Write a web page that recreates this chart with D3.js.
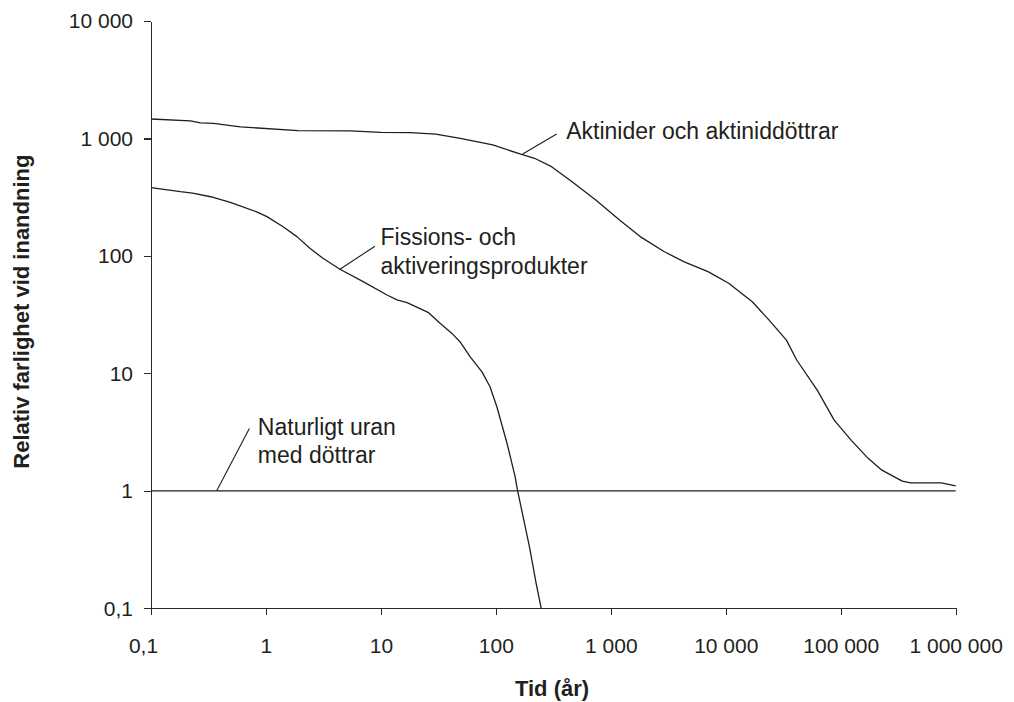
<!DOCTYPE html>
<html lang="sv">
<head>
<meta charset="utf-8">
<script src="https://cdn.jsdelivr.net/npm/d3@7"></script>
<style>
  html, body { margin: 0; padding: 0; background: #fff; }
  svg { display: block; font-family: "Liberation Sans", Arial, Helvetica, sans-serif; }
  .axis path, .axis line { stroke: #2a2a2a; stroke-width: 1.1; shape-rendering: crispEdges; }
  .axis text { font-size: 21px; fill: #231f20; font-family: "Liberation Sans", Arial, Helvetica, sans-serif; }
  .title { font-size: 22px; font-weight: bold; fill: #231f20; }
  .note { font-size: 23px; fill: #231f20; }
  .curve { fill: none; stroke: #1e1e1e; stroke-width: 1.3; stroke-linejoin: round; }
  .leader { fill: none; stroke: #1e1e1e; stroke-width: 1.1; }
</style>
</head>
<body>
<svg id="chart" width="1014" height="702"></svg>
<script>
// Tick values (log axes)
const timeTicks = [0.1, 1, 10, 100, 1000, 10000, 100000, 1000000];
const hazardTicks = [0.1, 1, 10, 100, 1000, 10000];

// Aktinider och aktiniddöttrar: tid (år) och relativ farlighet
const actinideTime = [0.1, 0.22, 0.27, 0.35, 0.6, 1.9, 5.4, 10, 18, 30, 49, 94, 162, 217, 305, 460, 740,
  1190, 1800, 2900, 4350, 7000, 10600, 17000, 23500, 33700, 41400, 62400, 87700, 123000, 173000,
  228000, 343000, 406000, 750000, 1000000];
const actinideValue = [1465, 1410, 1360, 1345, 1255, 1165, 1160, 1127, 1120, 1090, 1000, 880, 738, 678,
  575, 428, 299, 202, 146, 109, 89, 73.5, 58.5, 40.7, 28.8, 19.2, 13, 7.2, 4.0, 2.7, 1.89,
  1.5, 1.21, 1.17, 1.17, 1.10];

// Fissions- och aktiveringsprodukter
const fissionTime = [0.1, 0.18, 0.23, 0.33, 0.49, 0.84, 1.02, 1.41, 1.86, 2.41, 3.13, 4.4, 7.0, 11.3,
  13.8, 16.9, 25.7, 32.7, 41.5, 48.7, 59.6, 75.7, 88.9, 102, 125, 147, 154, 196, 224, 248];
const fissionValue = [381, 352, 343, 319, 286, 236, 216, 177, 146, 116, 95.5, 77, 60.4, 46.5,
  42.2, 40, 33.1, 26.7, 21.9, 18.6, 13.9, 10.3, 7.7, 5.2, 2.54, 1.32, 1.02, 0.334, 0.163, 0.1];

// Naturligt uran med döttrar (referensnivå)
const uraniumTime = [0.1, 1000000];
const uraniumValue = [1, 1];

// Etiketter med hänvisningslinjer: [start på kurvan, slut vid texten]
const uraniumLabel = ["Naturligt uran", "med döttrar"];
const uraniumLeader = [[0.373, 1], [0.717, 3.40]];
const fissionLabel = ["Fissions- och", "aktiveringsprodukter"];
const fissionLeader = [[4.40, 77], [8.88, 121]];
const actinideLabel = ["Aktinider och aktiniddöttrar"];
const actinideLeader = [[171, 738], [338, 1091]];

const xTitle = "Tid (år)";
const yTitle = "Relativ farlighet vid inandning";

const svg = d3.select("#chart");

const x = d3.scaleLog().domain([0.1, 1000000]).range([151, 955.7]);
const y = d3.scaleLog().domain([0.1, 10000]).range([608.3, 21]);

const sv = d3.formatLocale({ decimal: ",", thousands: "\u00a0", grouping: [3], currency: ["", " kr"] });
const fmt = sv.format(",");

// Axes
const xAxis = svg.append("g")
  .attr("class", "axis")
  .attr("transform", `translate(0,${y(0.1)})`)
  .call(d3.axisBottom(x).tickValues(timeTicks).tickFormat(fmt).tickSize(7).tickSizeOuter(0).tickPadding(23));
xAxis.selectAll(".tick text").filter(d => d === 0.1).attr("dx", -8);

svg.append("g")
  .attr("class", "axis")
  .attr("transform", `translate(${x(0.1)},0)`)
  .call(d3.axisLeft(y).tickValues(hazardTicks).tickFormat(fmt).tickSize(7).tickSizeOuter(0).tickPadding(11));

// Axis titles
svg.append("text")
  .attr("class", "title")
  .attr("x", 552).attr("y", 696)
  .attr("text-anchor", "middle")
  .text(xTitle);

svg.append("text")
  .attr("class", "title")
  .attr("transform", `translate(29,${(y(0.1) + y(10000)) / 2 - 3}) rotate(-90)`)
  .attr("text-anchor", "middle")
  .text(yTitle);

// Curves
const line = d3.line().x(d => x(d[0])).y(d => y(d[1]));
const zipSeries = (t, v) => t.map((ti, i) => [ti, v[i]]);

svg.append("path").attr("class", "curve").attr("stroke-width", 1.4)
  .attr("d", line(zipSeries(uraniumTime, uraniumValue)));
svg.append("path").attr("class", "curve")
  .attr("d", line(zipSeries(fissionTime, fissionValue)));
svg.append("path").attr("class", "curve")
  .attr("d", line(zipSeries(actinideTime, actinideValue)));

// Labels with leader lines
function annotate(leader, lines, dx, dy, lineHeight) {
  svg.append("path").attr("class", "leader").attr("d", line(leader));
  const end = leader[1];
  const t = svg.append("text").attr("class", "note");
  lines.forEach((s, i) => {
    t.append("tspan")
      .attr("x", x(end[0]) + dx)
      .attr("y", y(end[1]) + dy + i * lineHeight)
      .text(s);
  });
}
annotate(uraniumLeader, uraniumLabel, 8.5, 7, 28);
annotate(fissionLeader, fissionLabel, 5.5, -1.5, 29);
annotate(actinideLeader, actinideLabel, 9.5, 4.5, 29);
</script>
</body>
</html>
